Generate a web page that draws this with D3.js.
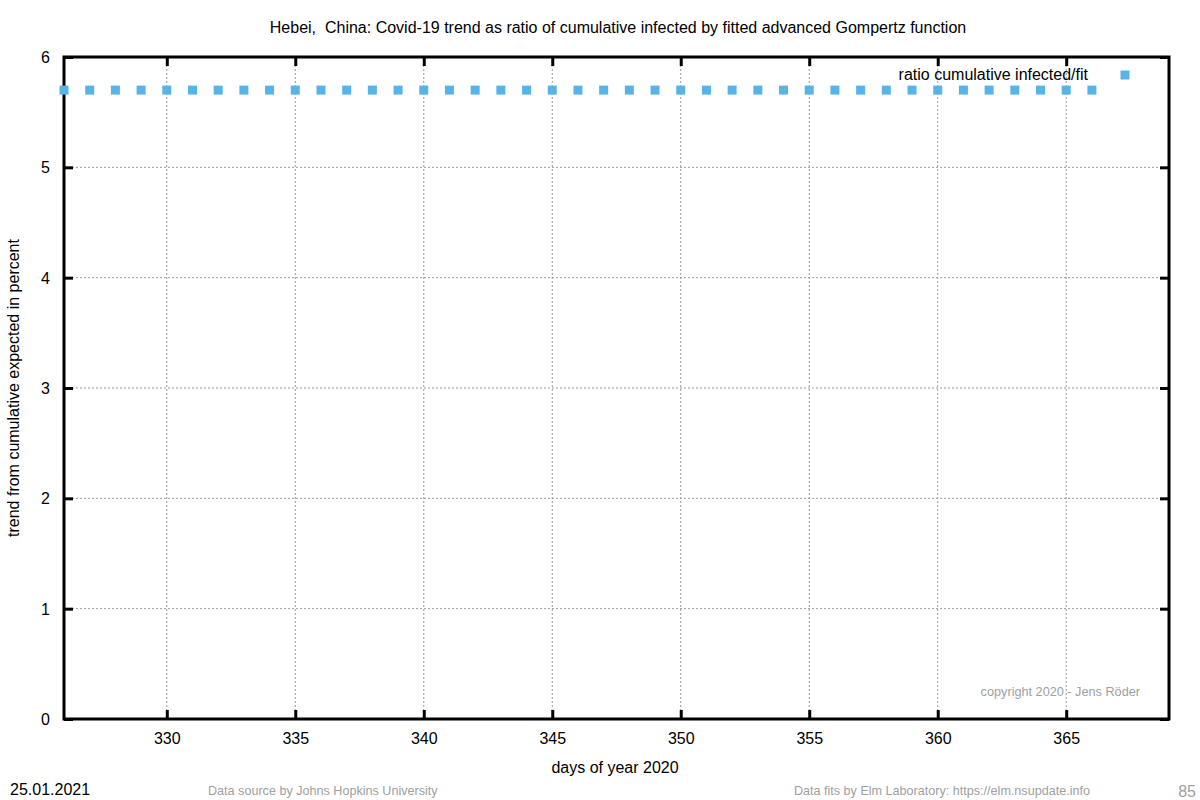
<!DOCTYPE html>
<html><head><meta charset="utf-8">
<script src="https://cdn.jsdelivr.net/npm/d3@7"></script>
<style>body{margin:0;background:#fff}svg{font-family:"Liberation Sans",Arial,sans-serif}</style>
</head><body><svg id="c" width="1200" height="800"></svg>
<script>
const days = [326,327,328,329,330,331,332,333,334,335,336,337,338,339,340,341,342,343,344,345,346,347,348,349,350,351,352,353,354,355,356,357,358,359,360,361,362,363,364,365,366];
const ratio = [5.7,5.7,5.7,5.7,5.7,5.7,5.7,5.7,5.7,5.7,5.7,5.7,5.7,5.7,5.7,5.7,5.7,5.7,5.7,5.7,5.7,5.7,5.7,5.7,5.7,5.7,5.7,5.7,5.7,5.7,5.7,5.7,5.7,5.7,5.7,5.7,5.7,5.7,5.7,5.7,5.7];
const xTicks = [330,335,340,345,350,355,360,365];
const yTicks = [0,1,2,3,4,5,6];

const svg = d3.select("#c");
const L=64,R=1169,T=57,B=719;
const x = d3.scaleLinear().domain([326,369]).range([L,R]);
const y = d3.scaleLinear().domain([0,6]).range([B,T]);

// grid
const g = svg.append("g");
g.selectAll(".gx").data(xTicks).join("line").attr("x1",d=>x(d)).attr("x2",d=>x(d)).attr("y1",T).attr("y2",B)
 .attr("stroke","#999").attr("stroke-width",1).attr("stroke-dasharray","2,2");
g.selectAll(".gy").data(yTicks.filter(d=>d>0&&d<6)).join("line").attr("y1",d=>y(d)).attr("y2",d=>y(d)).attr("x1",L).attr("x2",R)
 .attr("stroke","#999").attr("stroke-width",1).attr("stroke-dasharray","2,2");

// axes with inner ticks
const axB = svg.append("g").attr("transform",`translate(0,${B})`).call(d3.axisBottom(x).tickValues(xTicks).tickSize(-9).tickFormat(d3.format("d")));
const axT = svg.append("g").attr("transform",`translate(0,${T})`).call(d3.axisTop(x).tickValues(xTicks).tickSize(-9).tickFormat(""));
const axL = svg.append("g").attr("transform",`translate(${L},0)`).call(d3.axisLeft(y).tickValues(yTicks).tickSize(-9).tickFormat(d3.format("d")));
const axR = svg.append("g").attr("transform",`translate(${R},0)`).call(d3.axisRight(y).tickValues(yTicks).tickSize(-9).tickFormat(""));
[axB,axT,axL,axR].forEach(a=>{
  a.select(".domain").remove();
  a.selectAll(".tick line").attr("stroke","#000").attr("stroke-width",3);
  a.selectAll("text").attr("font-size",16).attr("fill","#000").attr("font-family","Liberation Sans, Arial, sans-serif");
});
axB.selectAll("text").attr("y",14).attr("dy","0.71em");
axL.selectAll("text").attr("x",-14).attr("dy","0.35em");

svg.append("rect").attr("x",L).attr("y",T).attr("width",R-L).attr("height",B-T).attr("fill","none").attr("stroke","#000").attr("stroke-width",3);

// points
const clr="#56B4E9", s=9;
svg.append("g").selectAll("rect").data(days.map((d,i)=>[d,ratio[i]])).join("rect")
 .attr("x",d=>x(d[0])-s/2).attr("y",d=>y(d[1])-s/2).attr("width",s).attr("height",s).attr("fill",clr);

// legend
svg.append("text").attr("x",1088).attr("y",80).attr("text-anchor","end").attr("font-size",16).text("ratio cumulative infected/fit");
svg.append("rect").attr("x",1125-s/2).attr("y",75-s/2).attr("width",s).attr("height",s).attr("fill",clr);

// titles
svg.append("text").attr("x",618).attr("y",33).attr("text-anchor","middle").attr("font-size",16).text("Hebei,  China: Covid-19 trend as ratio of cumulative infected by fitted advanced Gompertz function").style("white-space","pre");
svg.append("text").attr("x",615).attr("y",773).attr("text-anchor","middle").attr("font-size",16).text("days of year 2020");
svg.append("text").attr("transform","translate(19,388) rotate(-90)").attr("text-anchor","middle").attr("font-size",16).text("trend from cumulative expected in percent");
svg.append("text").attr("x",1140).attr("y",696).attr("text-anchor","end").attr("font-size",12.7).attr("fill","#a0a0a0").text("copyright 2020 - Jens Röder");
svg.append("text").attr("x",10).attr("y",795).attr("font-size",16).text("25.01.2021");
svg.append("text").attr("x",208).attr("y",795).attr("font-size",12.6).attr("fill","#a0a0a0").text("Data source by Johns Hopkins University");
svg.append("text").attr("x",1090).attr("y",795).attr("text-anchor","end").attr("font-size",12.6).attr("fill","#a0a0a0").text("Data fits by Elm Laboratory: https://elm.nsupdate.info");
svg.append("text").attr("x",1196).attr("y",797).attr("text-anchor","end").attr("font-size",16).attr("fill","#a0a0a0").text("85");
</script></body></html>
